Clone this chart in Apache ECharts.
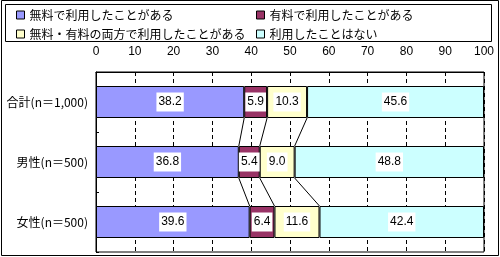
<!DOCTYPE html>
<html><head><meta charset="utf-8">
<script src="https://cdn.jsdelivr.net/npm/echarts@6/dist/echarts.min.js"></script>
<style>html,body{margin:0;padding:0;background:#fff}#c{width:500px;height:257px}</style>
</head><body><div id="c"></div>
<script>
var categories = ['合計(n＝1,000)', '男性(n＝500)', '女性(n＝500)'];
var seriesNames = ['無料で利用したことがある', '有料で利用したことがある', '無料・有料の両方で利用したことがある', '利用したことはない'];
var freeOnly = [38.2, 36.8, 39.6];
var paidOnly = [5.9, 5.4, 6.4];
var both = [10.3, 9.0, 11.6];
var never = [45.6, 48.8, 42.4];
var xTicks = [0, 10, 20, 30, 40, 50, 60, 70, 80, 90, 100];

var colors = ['#9999FF', '#993366', '#FFFFCC', '#CCFFFF'];
var values = [freeOnly, paidOnly, both, never];
var FONT = '"Noto Sans CJK JP", sans-serif';
var BAR_W = 32;

// connector lines between segment boundaries of consecutive bars
var connectors = [];
for (var i = 0; i < categories.length - 1; i++) {
  var c1 = 0, c2 = 0;
  for (var k = 0; k < 3; k++) {
    c1 += values[k][i]; c2 += values[k][i + 1];
    connectors.push([c1, i, c2, i + 1]);
  }
}

var chart = echarts.init(document.getElementById('c'), null, {renderer: 'canvas'});
var series = seriesNames.map(function (n, s) {
  return {
    name: n, type: 'bar', stack: 'all', barWidth: BAR_W,
    itemStyle: {color: colors[s], borderColor: '#000', borderWidth: 1},
    label: {
      show: true, position: 'inside', color: '#000', fontSize: 12,
      fontFamily: '"Liberation Sans", Arial, sans-serif',
      backgroundColor: '#fff', padding: [4, 2, 3, 2],
      formatter: function (p) { return Number(p.value).toFixed(1); }
    },
    emphasis: {disabled: true},
    data: values[s]
  };
});
series.push({
  type: 'custom', silent: true, z: 1,
  encode: {x: [0, 2], y: [1, 3]},
  renderItem: function (params, api) {
    var p1 = api.coord([api.value(0), api.value(1)]);
    var p2 = api.coord([api.value(2), api.value(3)]);
    return {type: 'line', shape: {x1: p1[0], y1: p1[1] + BAR_W / 2, x2: p2[0], y2: p2[1] - BAR_W / 2},
      style: {stroke: '#000', lineWidth: 1}};
  },
  data: connectors
});

var legendPos = [[16, 9], [256, 9], [16, 28], [256, 28]];
chart.setOption({
  animation: false,
  textStyle: {fontFamily: FONT},
  legend: seriesNames.map(function (n, s) {
    return {
      data: [n], left: legendPos[s][0], top: legendPos[s][1], padding: 0,
      icon: 'rect', itemWidth: 8, itemHeight: 8, itemGap: 4,
      itemStyle: {borderColor: '#000', borderWidth: 1},
      textStyle: {fontSize: 12, color: '#000', fontFamily: FONT},
      selectedMode: false
    };
  }),
  graphic: [
    {type: 'rect', shape: {x: 1.5, y: 0.5, width: 497, height: 255}, style: {fill: 'none', stroke: '#000', lineWidth: 1}, z: 100},
    {type: 'rect', shape: {x: 5.5, y: 4.5, width: 486, height: 37}, style: {fill: 'none', stroke: '#000', lineWidth: 1}, z: 100}
  ],
  grid: {left: 96, right: 16, top: 72, bottom: 5, show: true, borderColor: '#000', borderWidth: 1,
    backgroundColor: 'transparent', containLabel: false, outerBoundsMode: 'none'},
  xAxis: {
    type: 'value', position: 'top', min: xTicks[0], max: xTicks[xTicks.length - 1], interval: 10,
    axisLine: {show: true, lineStyle: {color: '#000'}},
    axisTick: {show: false},
    axisLabel: {color: '#000', fontSize: 12, margin: 14, fontFamily: '"Liberation Sans", Arial, sans-serif'},
    splitLine: {show: true, lineStyle: {color: '#000', type: [4, 3], width: 1}}
  },
  yAxis: {
    type: 'category', data: categories, inverse: true,
    axisLine: {show: true, lineStyle: {color: '#000'}},
    axisTick: {show: true, inside: true, length: 3, lineStyle: {color: '#000'}},
    axisLabel: {color: '#000', fontSize: 12, margin: 8, fontFamily: FONT}
  },
  series: series
});
</script></body></html>
